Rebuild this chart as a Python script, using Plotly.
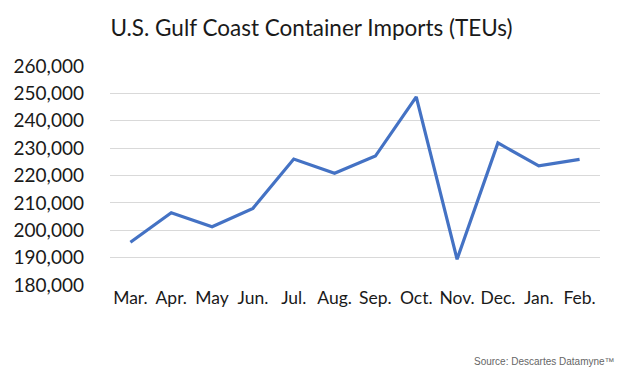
import plotly.graph_objects as go

months = ["Mar.", "Apr.", "May", "Jun.", "Jul.", "Aug.", "Sep.", "Oct.", "Nov.", "Dec.", "Jan.", "Feb."]
teus = [195600, 206400, 201300, 208000, 226000, 220800, 227100, 248700, 189400, 231900, 223500, 225900]
y_ticks = [180000, 190000, 200000, 210000, 220000, 230000, 240000, 250000, 260000]
title_text = "U.S. Gulf Coast Container Imports (TEUs)"
source_text = "Source: Descartes Datamyne™"

fig = go.Figure()
fig.add_trace(go.Scatter(x=months, y=teus, mode="lines",
                         line=dict(color="#4472C4", width=3.2)))

fig.update_layout(
    width=623, height=374,
    paper_bgcolor="white", plot_bgcolor="white",
    margin=dict(l=110, r=23, t=66, b=89, autoexpand=False),
    showlegend=False,
    font=dict(family="Lato, Open Sans, sans-serif", color="#1a1a1a"),
    title=dict(text=title_text, x=0.5, xanchor="center", y=0.925, yanchor="middle",
               font=dict(size=22.5, color="#1a1a1a", family="Lato, Open Sans, sans-serif")),
    xaxis=dict(type="category", showgrid=False, showline=False, zeroline=False,
               ticks="", tickfont=dict(size=17.5), range=[-0.5, 11.5]),
    yaxis=dict(range=[180000, 260000], tickvals=y_ticks, tickformat=",",
               showgrid=True, gridcolor="#D9D9D9", gridwidth=1.2,
               zeroline=False, showline=False, ticks="", ticklabelstandoff=25,
               tickfont=dict(size=19)),
)
fig.add_annotation(text=source_text, xref="paper", yref="paper", x=1.035, y=-0.35,
                   xanchor="right", yanchor="middle", showarrow=False,
                   font=dict(family="Liberation Sans, Arial, sans-serif", size=10, color="#666666"))

fig.write_html("out.html", config={"displayModeBar": False},
               post_script="document.body.style.margin='0';")
